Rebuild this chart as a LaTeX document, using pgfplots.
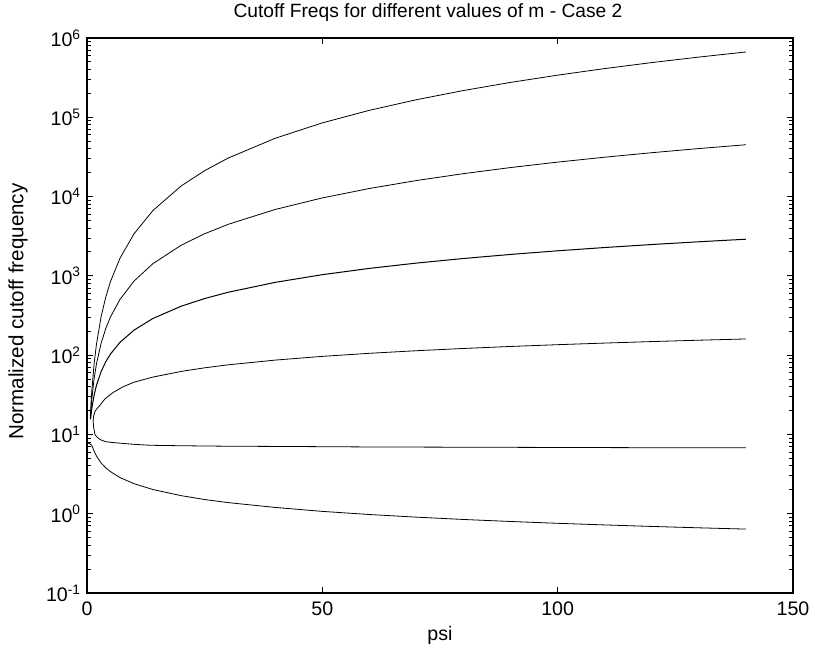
\documentclass[border=0pt]{standalone}
\usepackage{pgfplots}
\pgfplotsset{compat=1.18}
\usetikzlibrary{calc}
\usepackage{fontspec}
\setmainfont{Liberation Sans}
\begin{document}
\fontsize{9.8bp}{11.5bp}\selectfont
\begin{tikzpicture}
\begin{axis}[
  name=ax,
  scale only axis,
  width=353bp, height=277.5bp,
  xmin=0, xmax=150,
  ymode=log, ymin=0.1, ymax=1e6,
  xtick={0,50,100,150},
  xticklabels={0,50,100,150},
  ytick={0.1,1,10,100,1000,10000,100000,1000000},
  yticklabels={10\textsuperscript{-1},10\textsuperscript{0},10\textsuperscript{1},10\textsuperscript{2},10\textsuperscript{3},10\textsuperscript{4},10\textsuperscript{5},10\textsuperscript{6}},
  tick align=inside,
  major tick length=3bp,
  minor tick length=1.8bp,
  every tick/.style={black, line width=0.5bp},
  axis line style={line width=0.6bp},
  tick label style={font=\fontsize{9.8bp}{11.5bp}\selectfont},
  yticklabel style={xshift=0.5bp},
  xticklabel style={yshift=-1bp},
  title={Cutoff Freqs for different values of m - Case 2},
  every axis title/.style={at={(axis description cs:0.5,1)}, anchor=center, yshift=12.5bp, xshift=-6bp, font=\fontsize{9.6bp}{11.5bp}\selectfont},
  xlabel={psi},
  every axis x label/.style={at={(axis description cs:0.5,0)}, anchor=center, yshift=-21bp, font=\fontsize{9.8bp}{11.5bp}\selectfont},
  ylabel={Normalized cutoff frequency},
  every axis y label/.style={at={(axis description cs:0,0.5)}, anchor=center, rotate=90, yshift=34.5bp, xshift=2bp, font=\fontsize{10.3bp}{12bp}\selectfont},
  cycle list={{black, solid, line width=0.5bp, mark=none}},
]
% curve 1 (top)
\addplot coordinates {(0.7,16.7)(1,34)(1.5,76.5)(2,136)(3,306)(4,544)(5,850)(7,1666)(10,3400)(14,6664)(20,13600)(25,21250)(30,30600)(40,54400)(50,85000)(60,122400)(70,166600)(80,217600)(90,275400)(100,340000)(110,411400)(120,489600)(130,574600)(140,666400)};
% curve 2
\addplot coordinates {(0.7,15.9)(1,27.2)(1.5,50.0)(2,76.9)(3,141.3)(4,217.6)(5,304.1)(7,503.7)(10,860.2)(14,1424.8)(20,2432.8)(25,3400)(30,4469)(40,6881)(50,9617)(60,12642)(70,15930)(80,19463)(90,23224)(100,27200)(110,31381)(120,35755)(130,40316)(140,45057)};
% curve 3
\addplot coordinates {(0.75,15.5)(1,20.7)(1.5,31.05)(2,41.4)(3,62.1)(4,82.8)(5,103.5)(7,144.9)(10,207)(14,289.8)(20,414)(25,517.5)(30,621)(40,828)(50,1035)(60,1242)(70,1449)(80,1656)(90,1863)(100,2070)(110,2277)(120,2484)(130,2691)(140,2898)};
% curve 4
\addplot coordinates {(1.3,15)(1.4,17)(1.7,19.5)(2.2,21.5)(2.8,23.5)(3.8,28)(5.6,34)(7.7,40)(10,45.6)(14,52.9)(20,62.3)(25,69.2)(30,75.5)(40,86.6)(50,96.5)(60,105.5)(70,113.7)(80,121.4)(90,128.7)(100,135.5)(110,142)(120,148.3)(130,154.3)(140,160)};
% curve 5
\addplot coordinates {(1.3,15)(1.4,12.5)(1.7,9.9)(2.2,9.2)(2.8,8.6)(4,8.1)(5.5,7.9)(7.7,7.7)(10,7.5)(13.4,7.3)(20,7.2)(30,7.1)(42,7.05)(60,6.95)(80,6.9)(100,6.85)(120,6.8)(140,6.78)};
% curve 6 (bottom)
\addplot coordinates {(0.05,7.8)(0.5,7.7)(1,7.3)(1.5,6.2)(2,5.35)(3,4.37)(4,3.79)(5,3.39)(7,2.86)(10,2.39)(14,2.02)(20,1.69)(25,1.51)(30,1.38)(40,1.20)(50,1.07)(60,0.977)(70,0.905)(80,0.846)(90,0.798)(100,0.757)(110,0.722)(120,0.691)(130,0.664)(140,0.640)};
\end{axis}
\pgfresetboundingbox
\path ($(ax.south west)+(-43.5bp,-30.5bp)$) rectangle ($(ax.north east)+(11bp,19bp)$);
\end{tikzpicture}
\end{document}
